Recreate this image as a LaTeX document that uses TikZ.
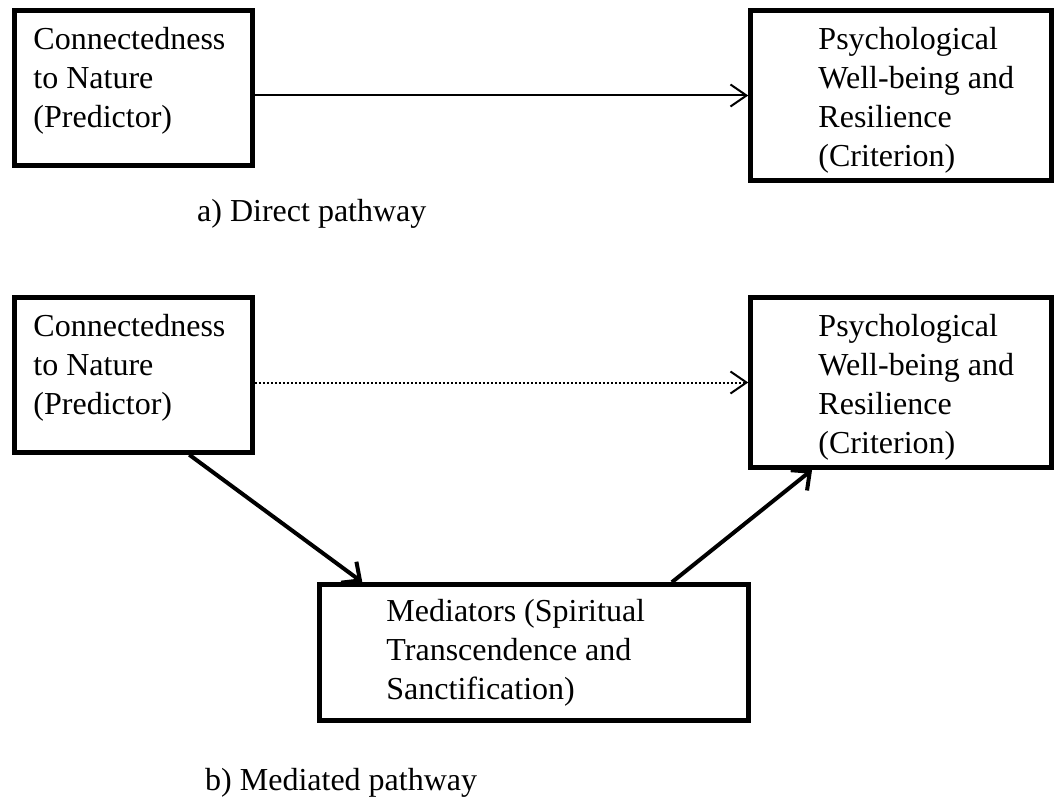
\documentclass[tikz,border=0pt]{standalone}
\usepackage{fontspec}
\setmainfont{Liberation Serif}
\usetikzlibrary{arrows.meta,positioning,calc}
\tikzstyle{box} = [draw,rectangle,line width=4.5pt,inner sep=0pt]
\tikzstyle{smallbox} = [box,minimum width=238pt,minimum height=155pt]
\tikzstyle{bigbox} = [box,minimum width=301pt,minimum height=170pt]
\tikzstyle{txt} = [font=\fontsize{32}{39}\selectfont,align=left,inner sep=0pt,anchor=north west]
\tikzstyle{arrow} = [line width=2pt,-{Straight Barb[length=16pt,width=22pt]}]
\tikzstyle{thickarrow} = [line width=4pt,-{Straight Barb[length=14pt,width=26pt]}]

\begin{document}
\begin{tikzpicture}[x=1pt,y=-1pt]
\useasboundingbox (0,0) rectangle (1060,805);

% a) direct pathway
\node[smallbox] (pred) at (133.5,88) {};
\node[bigbox] (crit) at (901,95.5) {};
\node[txt] (predtxt) at ($(pred.north west)+(21,19)$) {Connectedness\\to Nature\\(Predictor)};
\node[txt] (crittxt) at ($(crit.north west)+(70,19)$) {Psychological\\Well-being and\\Resilience\\(Criterion)};
\draw[arrow] (pred.east |- crit.west) -- (crit.west);
\node[txt,anchor=base west] (lbla) at (197,222) {a) Direct pathway};

% b) mediated pathway
\node[smallbox] (pred2) at (133.5,375) {};
\node[bigbox] (crit2) at (901,382.5) {};
\node[box,minimum width=429pt,minimum height=136pt] (med) at (534,652.5) {};
\node[txt] (pred2txt) at ($(pred2.north west)+(21,19)$) {Connectedness\\to Nature\\(Predictor)};
\node[txt] (crit2txt) at ($(crit2.north west)+(70,19)$) {Psychological\\Well-being and\\Resilience\\(Criterion)};
\node[txt] (medtxt) at ($(med.north west)+(69,17)$) {Mediators (Spiritual\\Transcendence and\\Sanctification)};
\draw[arrow,dotted] (pred2.east |- crit2.west) -- (crit2.west);
\draw[thickarrow] ($(pred2.south west)!0.73!(pred2.south east)$) -- ($(med.north west)!0.104!(med.north east)$);
\draw[thickarrow] ($(med.north west)!0.818!(med.north east)$) -- ($(crit2.south west)!0.209!(crit2.south east)$);
\node[txt,anchor=base west] (lblb) at (205,790) {b) Mediated pathway};
\end{tikzpicture}
\end{document}
